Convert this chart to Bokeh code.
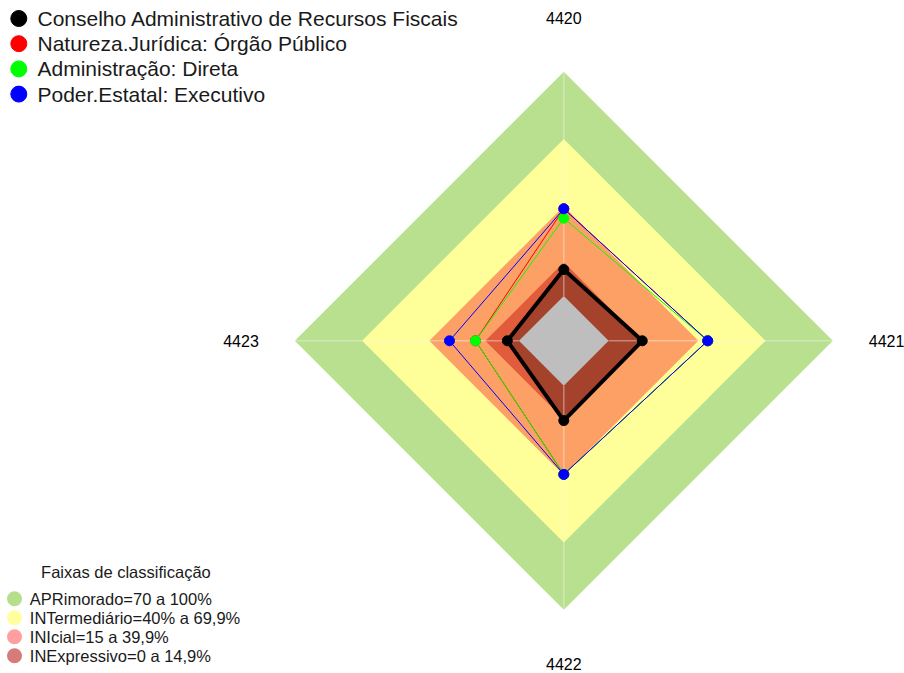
import math
from bokeh.plotting import figure
from bokeh.models import Range1d
from bokeh.core.properties import value
from bokeh.embed import file_html
from bokeh.resources import INLINE

# ---------------- data ----------------
categories = ["4420", "4421", "4422", "4423"]
series_names = [
    "Conselho Administrativo de Recursos Fiscais",
    "Natureza.Jurídica: Órgão Público",
    "Administração: Direta",
    "Poder.Estatal: Executivo",
]
carf = [11.8, 15.0, 15.6, 5.2]
natureza = [38.9, 44.2, 39.6, 19.4]
administracao = [34.7, 44.2, 39.6, 19.4]
poder = [38.9, 44.2, 39.6, 31.0]
series_colors = ["black", "red", "#00ff00", "blue"]

band_title = "Faixas de classificação"
band_names = [
    "APRimorado=70 a 100%",
    "INTermediário=40% a 69,9%",
    "INIcial=15 a 39,9%",
    "INExpressivo=0 a 14,9%",
]
band_upper = [100, 70, 40, 15]
band_fill = ["#b9e08f", "#ffff99", "#fda065", "#e05c3b"]
band_legend_colors = ["#b5df8a", "#ffff9f", "#ff9f9f", "#d77a7a"]

# ---------------- geometry ----------------
W, H = 904, 673
cx, cy, R = 563.3, 340.3, 269.0
FONT = value("Liberation Sans")


def rad(v):
    return R * (1.0 / 6.0 + 5.0 / 6.0 * v / 100.0)


def polar(vals, scale=None):
    xs, ys = [], []
    for i, v in enumerate(vals):
        r = rad(v) if scale is None else scale
        a = i * math.pi / 2
        xs.append(cx + r * math.sin(a))
        ys.append(cy - r * math.cos(a))
    return xs, ys


p = figure(width=W, height=H, x_range=Range1d(0, W), y_range=Range1d(H, 0),
           output_backend="svg", toolbar_location=None, min_border=0,
           x_axis_location=None, y_axis_location=None)
p.grid.visible = False
p.outline_line_color = None
p.background_fill_color = "white"
p.border_fill_color = "white"

# bands
n = len(categories)
for lim, col in zip(band_upper, band_fill):
    xs, ys = polar([lim] * n)
    p.patch(xs, ys, fill_color=col, line_color=None)

# CARF filled area
xs, ys = polar(carf)
p.patch(xs, ys, fill_color="#a5422b", line_color=None)

# center hole
xs, ys = polar([0] * n)
p.patch(xs, ys, fill_color="#bebebe", line_color=None)

# axis lines
x0, y0 = polar([0] * n)
x1, y1 = polar([100] * n)
p.segment(x0=x0, y0=y0, x1=x1, y1=y1, line_color="#f2f2f2", line_alpha=0.4, line_width=1.5)

# series
all_series = [carf, natureza, administracao, poder]
widths = [4, 1, 1, 1]
for vals, col, lw in zip(all_series, series_colors, widths):
    xs, ys = polar(vals)
    p.line(xs + xs[:1], ys + ys[:1], line_color=col, line_width=lw)
    p.scatter(xs, ys, size=10, fill_color=col, line_color=col, marker="circle")

# axis labels
lx, ly = polar([0] * n, scale=1.2 * R)
p.text(x=lx, y=ly, text=categories, text_font=FONT, text_font_size="16px",
       text_align="center", text_baseline="middle", text_color="black")

# top legend
leg_y = [18 + 25.2 * i for i in range(len(series_names))]
p.scatter([18.3] * len(series_names), leg_y, size=16, fill_color=series_colors,
          line_color=series_colors, marker="circle")
p.text(x=[37] * len(series_names), y=leg_y, text=series_names, text_font=FONT,
       text_font_size="21px", text_align="left", text_baseline="middle", text_color="#1a1a1a")

# bottom legend
p.text(x=[125.4], y=[571], text=[band_title], text_font=FONT, text_font_size="16.5px",
       text_align="center", text_baseline="middle", text_color="#1a1a1a")
by = [598.3 + 19 * i for i in range(len(band_names))]
p.scatter([14] * len(band_names), by, size=15, fill_color=band_legend_colors,
          line_color=None, marker="circle")
p.text(x=[29.3] * len(band_names), y=by, text=band_names, text_font=FONT,
       text_font_size="16.5px", text_align="left", text_baseline="middle", text_color="#1a1a1a")

open("out.html", "w").write(file_html(p, INLINE))
